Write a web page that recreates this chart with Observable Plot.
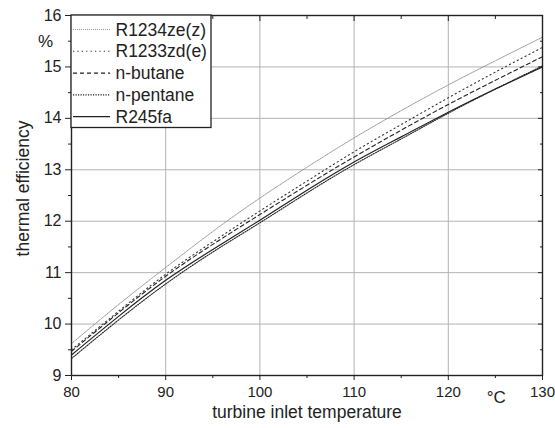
<!DOCTYPE html>
<html>
<head>
<meta charset="utf-8">
<script src="https://cdn.jsdelivr.net/npm/d3@7"></script>
<script src="https://cdn.jsdelivr.net/npm/@observablehq/plot@0.6"></script>
<style>
  body { margin: 0; background: #fff; font-family: "Liberation Sans", Arial, sans-serif; }
  #chart { width: 555px; height: 428px; }
</style>
</head>
<body>
<div id="chart"></div>
<script>
// Turbine inlet temperature (°C) at which each efficiency is sampled
const temps = [80, 85, 90, 95, 100, 105, 110, 115, 120, 125, 130];

// Thermal efficiency (%) per working fluid
const r1234zeZ = [9.62, 10.38, 11.10, 11.80, 12.45, 13.05, 13.62, 14.15, 14.65, 15.12, 15.58];
const r1233zdE = [9.50, 10.25, 10.97, 11.60, 12.20, 12.78, 13.35, 13.88, 14.40, 14.90, 15.38];
const nButane  = [9.47, 10.22, 10.93, 11.55, 12.13, 12.70, 13.25, 13.77, 14.27, 14.74, 15.20];
const nPentane = [9.33, 10.08, 10.78, 11.40, 11.97, 12.55, 13.10, 13.60, 14.10, 14.57, 15.02];
const r245fa   = [9.40, 10.15, 10.85, 11.45, 12.02, 12.60, 13.15, 13.64, 14.12, 14.57, 15.00];

const fluids = ["R1234ze(z)", "R1233zd(e)", "n-butane", "n-pentane", "R245fa"];
const values = [r1234zeZ, r1233zdE, nButane, nPentane, r245fa];

// Axis ticks
const xTicks = [80, 90, 100, 110, 120, 130];
const xMinor = [85, 95, 105, 115, 125];
const yTicks = [9, 10, 11, 12, 13, 14, 15, 16];
const yMinor = [9.5, 10.5, 11.5, 12.5, 13.5, 14.5, 15.5];

// Line style for each fluid
const styles = {
  "R1234ze(z)": {stroke: "#8a8a8a", strokeWidth: 0.9, strokeDasharray: "1 1"},
  "R1233zd(e)": {stroke: "#333", strokeWidth: 1.1, strokeDasharray: "1.2 3.2"},
  "n-butane":   {stroke: "#222", strokeWidth: 1.1, strokeDasharray: "4 3"},
  "n-pentane":  {stroke: "#222", strokeWidth: 1.1, strokeDasharray: "1.2 1.3"},
  "R245fa":     {stroke: "#222", strokeWidth: 1.2, strokeDasharray: null}
};

const rows = fluids.flatMap((f, j) => temps.map((t, i) => ({fluid: f, t, eta: values[j][i]})));

const font = "Liberation Sans, Arial, sans-serif";
const gridColor = "#b3b3b3";
const ink = "#222";
const fmt = d => String(d);

const plot = Plot.plot({
  width: 555,
  height: 428,
  marginLeft: 71,
  marginRight: 13,
  marginTop: 15,
  marginBottom: 53,
  x: {domain: [80, 130]},
  y: {domain: [9, 16]},
  style: {fontFamily: font, fontSize: "16px", color: ink, background: "#fff"},
  marks: [
    Plot.gridX(xTicks, {stroke: gridColor, strokeOpacity: 1, strokeWidth: 1}),
    Plot.gridY(yTicks, {stroke: gridColor, strokeOpacity: 1, strokeWidth: 1}),
    ...fluids.map(f => Plot.line(rows.filter(d => d.fluid === f), {
      x: "t", y: "eta", curve: "natural", ...styles[f]
    })),
    Plot.frame({stroke: ink, strokeWidth: 1.4}),
    // left axis: labelled major ticks and minor ticks, outward
    Plot.axisY(yTicks, {anchor: "left", tickSize: 6, tickPadding: 4, tickFormat: fmt, label: null, fontSize: 16, stroke: ink}),
    Plot.axisY(yMinor, {anchor: "left", tickSize: 3, text: null, label: null, stroke: ink}),
    // right axis: inward ticks only
    Plot.axisY(yTicks, {anchor: "right", tickSize: 5, dx: -5, text: null, label: null, stroke: ink}),
    Plot.axisY(yMinor, {anchor: "right", tickSize: 3, dx: -3, text: null, label: null, stroke: ink}),
    // bottom axis
    Plot.axisX(xTicks, {anchor: "bottom", tickSize: 5, tickPadding: 6, tickFormat: fmt, label: null, fontSize: 15, stroke: ink}),
    Plot.axisX(xMinor, {anchor: "bottom", tickSize: 3, text: null, label: null, stroke: ink}),
    // top axis: inward ticks only
    Plot.axisX(xTicks, {anchor: "top", tickSize: 5, dy: 5, text: null, label: null, stroke: ink}),
    Plot.axisX(xMinor, {anchor: "top", tickSize: 3, dy: 3, text: null, label: null, stroke: ink}),
    // unit labels
    Plot.text(["%"], {y: 15.5, frameAnchor: "left", textAnchor: "middle", dx: -26, fontSize: 17, fill: ink}),
    Plot.text(["°C"], {x: 125.1, frameAnchor: "bottom", textAnchor: "middle", dy: 27, fontSize: 17, fill: ink}),
    // axis titles
    Plot.text(["thermal efficiency"], {frameAnchor: "left", textAnchor: "middle", rotate: -90, dx: -48, dy: -7, fontSize: 17.5, fill: ink}),
    Plot.text(["turbine inlet temperature"], {frameAnchor: "bottom", textAnchor: "middle", dy: 42, fontSize: 17.5, fill: ink})
  ]
});

document.getElementById("chart").appendChild(plot);

// Legend box in the upper-left corner of the plot area
const svg = d3.select(plot);
const lg = svg.append("g")
  .attr("font-family", font).attr("font-size", 17.5)
  .attr("fill", ink).attr("text-anchor", "start");
lg.append("rect")
  .attr("x", 71).attr("y", 15).attr("width", 140).attr("height", 112.5)
  .attr("fill", "#fff").attr("stroke", ink).attr("stroke-width", 1.3);
fluids.forEach((f, i) => {
  const cy = 29.5 + i * 21.8;
  const s = styles[f];
  lg.append("line")
    .attr("x1", 73).attr("x2", 110).attr("y1", cy).attr("y2", cy)
    .attr("stroke", s.stroke).attr("stroke-width", s.strokeWidth)
    .attr("stroke-dasharray", s.strokeDasharray);
  lg.append("text").attr("x", 115.5).attr("y", cy).attr("dy", "0.35em").text(f);
});
</script>
</body>
</html>
